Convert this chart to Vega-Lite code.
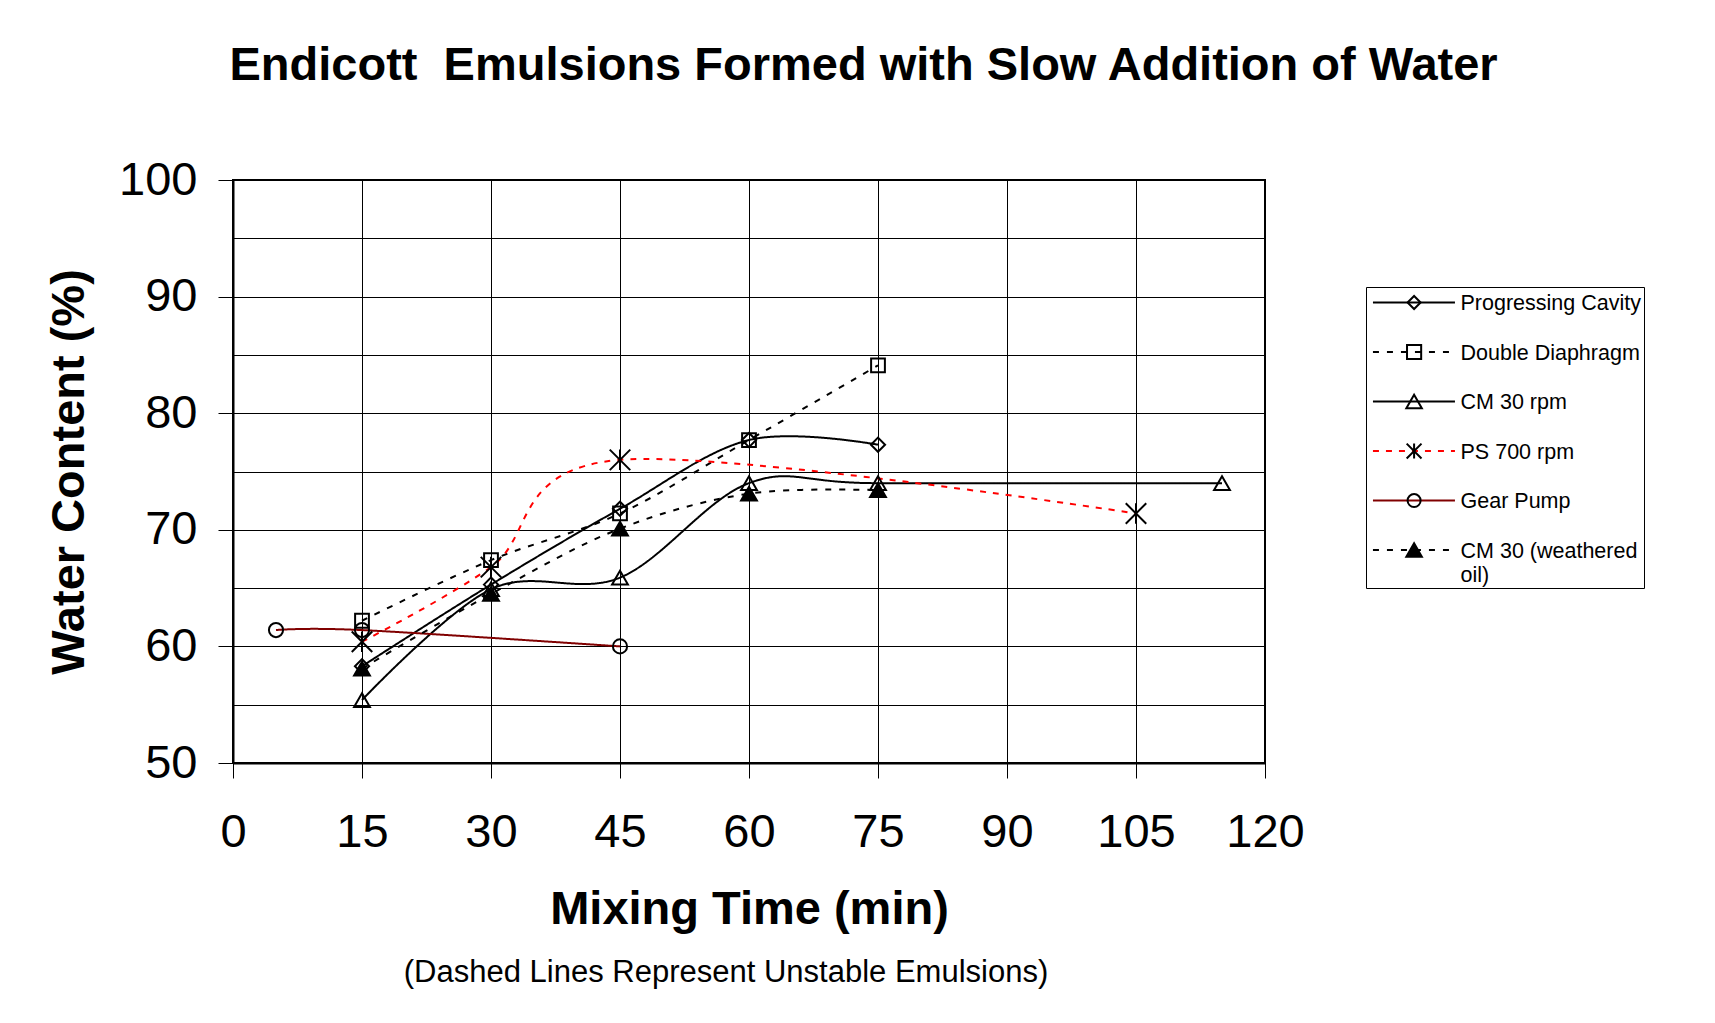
{
  "$schema": "https://vega.github.io/schema/vega-lite/v6.json",
  "background": "white",
  "padding": {"left": 44, "top": 42, "right": 10, "bottom": 5},
  "config": {"font": "Liberation Sans", "view": {"stroke": null}},
  "title": {"text": "Endicott\u00a0 Emulsions Formed with Slow Addition of Water", "fontSize": 47, "fontWeight": "bold", "font": "Liberation Sans", "color": "#000", "anchor": "middle", "frame": "bounds", "offset": 65, "dx": 19},
  "datasets": {
    "pts": [
      {"series": "Progressing Cavity", "time": 15, "water": 58.3},
      {"series": "Progressing Cavity", "time": 30, "water": 65.3},
      {"series": "Progressing Cavity", "time": 45, "water": 71.8},
      {"series": "Progressing Cavity", "time": 60, "water": 77.7},
      {"series": "Progressing Cavity", "time": 75, "water": 77.3},
      {"series": "Double Diaphragm", "time": 15, "water": 62.2},
      {"series": "Double Diaphragm", "time": 30, "water": 67.4},
      {"series": "Double Diaphragm", "time": 45, "water": 71.4},
      {"series": "Double Diaphragm", "time": 60, "water": 77.7},
      {"series": "Double Diaphragm", "time": 75, "water": 84.1},
      {"series": "CM 30 rpm", "time": 15, "water": 55.4},
      {"series": "CM 30 rpm", "time": 30, "water": 64.9},
      {"series": "CM 30 rpm", "time": 45, "water": 65.9},
      {"series": "CM 30 rpm", "time": 60, "water": 74.0},
      {"series": "CM 30 rpm", "time": 75, "water": 74.0},
      {"series": "CM 30 rpm", "time": 115, "water": 74.0},
      {"series": "PS 700 rpm", "time": 15, "water": 60.4},
      {"series": "PS 700 rpm", "time": 30, "water": 66.8},
      {"series": "PS 700 rpm", "time": 45, "water": 76.0},
      {"series": "PS 700 rpm", "time": 105, "water": 71.4},
      {"series": "Gear Pump", "time": 5, "water": 61.4},
      {"series": "Gear Pump", "time": 15, "water": 61.4},
      {"series": "Gear Pump", "time": 45, "water": 60.0},
      {"series": "CM 30 (weathered oil)", "time": 15, "water": 58.1},
      {"series": "CM 30 (weathered oil)", "time": 30, "water": 64.5},
      {"series": "CM 30 (weathered oil)", "time": 45, "water": 70.1},
      {"series": "CM 30 (weathered oil)", "time": 60, "water": 73.1},
      {"series": "CM 30 (weathered oil)", "time": 75, "water": 73.4}
    ],
    "leg": [
      {"series": "Progressing Cavity", "label": "Progressing Cavity"},
      {"series": "Double Diaphragm", "label": "Double Diaphragm"},
      {"series": "CM 30 rpm", "label": "CM 30 rpm"},
      {"series": "PS 700 rpm", "label": "PS 700 rpm"},
      {"series": "Gear Pump", "label": "Gear Pump"},
      {"series": "CM 30 (weathered oil)", "label": "CM 30 (weathered\noil)"}
    ]
  },
  "bounds": "flush",
  "spacing": 101,
  "resolve": {"scale": {"x": "independent", "y": "independent", "size": "independent"}},
  "hconcat": [
    {
      "width": 1032,
      "height": 583,
      "data": {"name": "pts"},
      "view": {"stroke": "#000", "strokeWidth": 2},
      "title": {"text": "(Dashed Lines Represent Unstable Emulsions)", "orient": "bottom", "fontSize": 31, "fontWeight": "normal", "anchor": "middle", "frame": "group", "offset": 26, "dx": -23, "color": "#000"},
      "encoding": {
        "x": {"field": "time", "type": "quantitative", "scale": {"domain": [0, 120], "nice": false, "zero": false},
          "axis": {"values": [0, 15, 30, 45, 60, 75, 90, 105, 120], "title": "Mixing Time (min)", "titleFontSize": 47, "titleFontWeight": "bold", "titleColor": "#000", "titlePadding": 31,
            "labelFontSize": 47, "labelColor": "#000", "labelPadding": 31, "labelFlush": false, "labelOverlap": false, "tickSize": 15, "tickColor": "#000", "tickWidth": 1,
            "domainColor": "#000", "domainWidth": 2, "grid": true, "gridColor": "#000", "gridWidth": 1, "gridOpacity": 1}},
        "y": {"field": "water", "type": "quantitative", "scale": {"domain": [50, 100], "nice": false, "zero": false},
          "axis": {"values": [50, 55, 60, 65, 70, 75, 80, 85, 90, 95, 100], "labelExpr": "datum.value % 10 == 0 ? datum.label : ''",
            "tickOpacity": {"condition": {"test": "datum.value % 10 == 0", "value": 1}, "value": 0},
            "title": "Water Content (%)", "titleFontSize": 47, "titleFontWeight": "bold", "titleColor": "#000", "titlePadding": 25,
            "labelFontSize": 47, "labelColor": "#000", "labelPadding": 21, "labelFlush": false, "labelOverlap": false, "tickSize": 15, "tickColor": "#000", "tickWidth": 1,
            "domainColor": "#000", "domainWidth": 2, "grid": true, "gridColor": "#000", "gridWidth": 1, "gridOpacity": 1}}
      },
      "layer": [
        {
          "mark": {"type": "line", "interpolate": "cardinal", "tension": 0, "strokeWidth": 2},
          "encoding": {
            "color": {"field": "series", "type": "nominal", "legend": null,
              "scale": {"domain": ["Progressing Cavity", "Double Diaphragm", "CM 30 rpm", "PS 700 rpm", "Gear Pump", "CM 30 (weathered oil)"], "range": ["#000000", "#000000", "#000000", "#FF0000", "#800000", "#000000"]}},
            "strokeDash": {"field": "series", "type": "nominal", "legend": null,
              "scale": {"domain": ["Progressing Cavity", "Double Diaphragm", "CM 30 rpm", "PS 700 rpm", "Gear Pump", "CM 30 (weathered oil)"], "range": [[1, 0], [6, 8], [1, 0], [6, 7], [1, 0], [6, 8]]}}
          }
        },
        {
          "mark": {"type": "point", "filled": true, "opacity": 1, "strokeWidth": 2},
          "encoding": {
            "shape": {"field": "series", "type": "nominal", "legend": null,
              "scale": {"domain": ["Progressing Cavity", "Double Diaphragm", "CM 30 rpm", "PS 700 rpm", "Gear Pump", "CM 30 (weathered oil)"], "range": ["diamond", "square", "triangle-up", "M-1,-1L1,1M-1,1L1,-1M0,-1L0,1", "circle", "triangle-up"]}},
            "fill": {"field": "series", "type": "nominal", "legend": null,
              "scale": {"domain": ["Progressing Cavity", "Double Diaphragm", "CM 30 rpm", "PS 700 rpm", "Gear Pump", "CM 30 (weathered oil)"], "range": ["transparent", "transparent", "transparent", "transparent", "transparent", "#000000"]}},
            "stroke": {"field": "series", "type": "nominal", "legend": null,
              "scale": {"domain": ["Progressing Cavity", "Double Diaphragm", "CM 30 rpm", "PS 700 rpm", "Gear Pump", "CM 30 (weathered oil)"], "range": ["#000000", "#000000", "#000000", "#000000", "#000000", "#000000"]}},
            "size": {"field": "series", "type": "nominal", "legend": null,
              "scale": {"type": "ordinal", "domain": ["Progressing Cavity", "Double Diaphragm", "CM 30 rpm", "PS 700 rpm", "Gear Pump", "CM 30 (weathered oil)"], "range": [200, 190, 250, 420, 200, 250]}}
          }
        }
      ]
    },
    {
      "vconcat": [
        {"width": 278, "height": 107, "data": {"values": [{}]}, "mark": {"type": "text"}, "encoding": {"text": {"value": ""}}, "view": {"stroke": null}},
        {
          "width": 278,
          "height": 301,
          "data": {"name": "leg"},
          "view": {"stroke": "#000", "strokeWidth": 1, "fill": "white"},
          "encoding": {
            "y": {"field": "series", "type": "nominal", "sort": ["Progressing Cavity", "Double Diaphragm", "CM 30 rpm", "PS 700 rpm", "Gear Pump", "CM 30 (weathered oil)"],
              "scale": {"type": "point", "padding": 0.54, "align": 0.29}, "axis": null}
          },
          "layer": [
            {
              "mark": {"type": "rule", "strokeWidth": 2},
              "encoding": {
                "x": {"datum": 2.5, "type": "quantitative", "scale": {"domain": [0, 100], "nice": false, "zero": false}, "axis": null},
                "x2": {"datum": 32},
                "color": {"field": "series", "type": "nominal", "legend": null,
                  "scale": {"domain": ["Progressing Cavity", "Double Diaphragm", "CM 30 rpm", "PS 700 rpm", "Gear Pump", "CM 30 (weathered oil)"], "range": ["#000000", "#000000", "#000000", "#FF0000", "#800000", "#000000"]}},
                "strokeDash": {"field": "series", "type": "nominal", "legend": null,
                  "scale": {"domain": ["Progressing Cavity", "Double Diaphragm", "CM 30 rpm", "PS 700 rpm", "Gear Pump", "CM 30 (weathered oil)"], "range": [[1, 0], [6, 8], [1, 0], [6, 7], [1, 0], [6, 8]]}}
              }
            },
            {
              "mark": {"type": "point", "filled": true, "opacity": 1, "strokeWidth": 2},
              "encoding": {
                "x": {"datum": 17.3, "type": "quantitative"},
                "shape": {"field": "series", "type": "nominal", "legend": null,
                  "scale": {"domain": ["Progressing Cavity", "Double Diaphragm", "CM 30 rpm", "PS 700 rpm", "Gear Pump", "CM 30 (weathered oil)"], "range": ["diamond", "square", "triangle-up", "M-1,-1L1,1M-1,1L1,-1M0,-1L0,1", "circle", "triangle-up"]}},
                "fill": {"field": "series", "type": "nominal", "legend": null,
                  "scale": {"domain": ["Progressing Cavity", "Double Diaphragm", "CM 30 rpm", "PS 700 rpm", "Gear Pump", "CM 30 (weathered oil)"], "range": ["white", "white", "white", "white", "white", "#000000"]}},
                "stroke": {"field": "series", "type": "nominal", "legend": null,
                  "scale": {"domain": ["Progressing Cavity", "Double Diaphragm", "CM 30 rpm", "PS 700 rpm", "Gear Pump", "CM 30 (weathered oil)"], "range": ["#000000", "#000000", "#000000", "#000000", "#000000", "#000000"]}},
                "size": {"field": "series", "type": "nominal", "legend": null,
                  "scale": {"type": "ordinal", "domain": ["Progressing Cavity", "Double Diaphragm", "CM 30 rpm", "PS 700 rpm", "Gear Pump", "CM 30 (weathered oil)"], "range": [170, 200, 240, 220, 170, 240]}}
              }
            },
            {
              "mark": {"type": "text", "align": "left", "baseline": "alphabetic", "dy": 7.5, "fontSize": 21.5, "lineBreak": "\n", "lineHeight": 24, "color": "#000"},
              "encoding": {
                "x": {"datum": 34, "type": "quantitative"},
                "text": {"field": "label"}
              }
            }
          ]
        }
      ],
      "spacing": 0,
      "bounds": "flush"
    }
  ]
}
